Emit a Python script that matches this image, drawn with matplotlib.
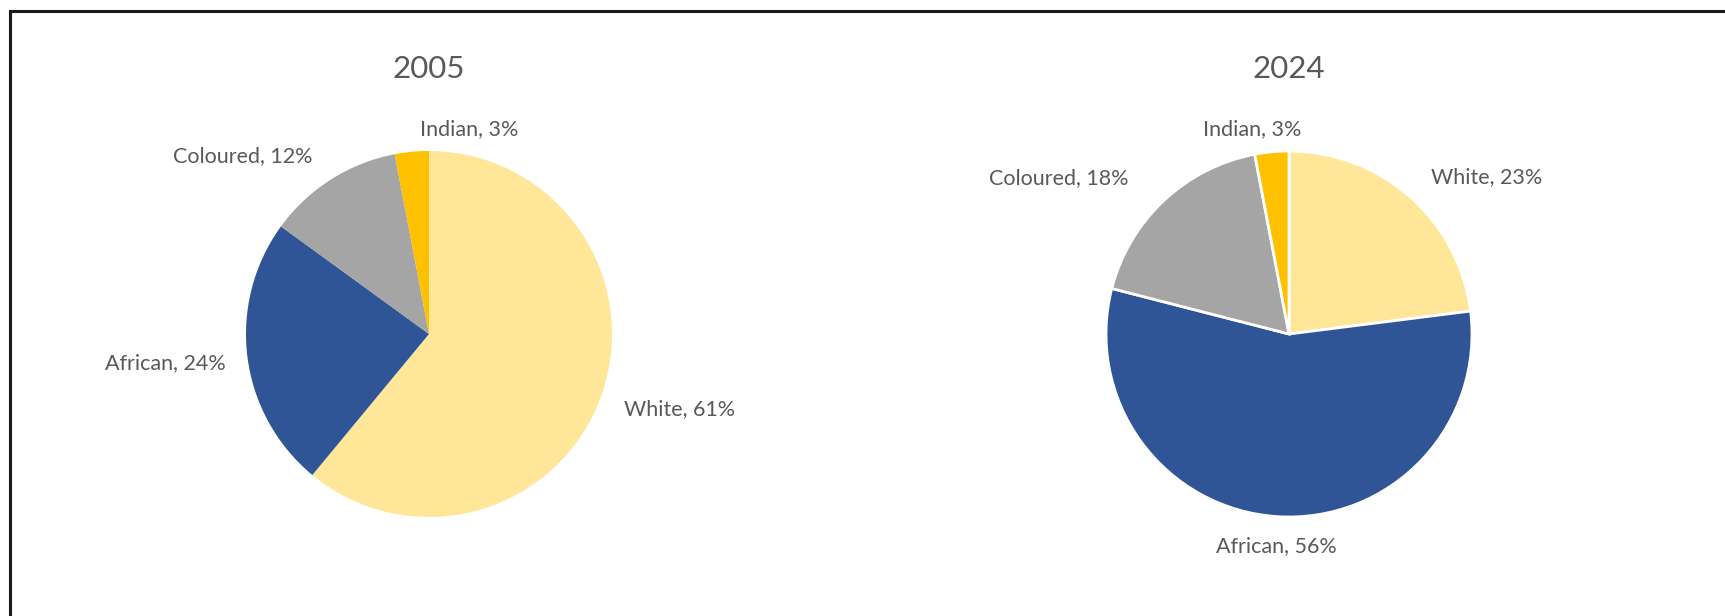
import matplotlib.pyplot as plt
from matplotlib.lines import Line2D

# data
groups = ['White', 'African', 'Coloured', 'Indian']
colors = ['#FFE699', '#2F5597', '#A5A5A5', '#FFC000']
years = ['2005', '2024']
share_2005 = [61, 24, 12, 3]
share_2024 = [23, 56, 18, 3]

# label centres in pie-radius units
label_pos_2005 = [(1.37, -0.41), (-1.44, -0.16), (-1.02, 0.97), (0.22, 1.12)]
label_pos_2024 = [(1.08, 0.86), (-0.07, -1.16), (-1.26, 0.85), (-0.20, 1.12)]

W, H = 1725, 616
R = 183  # pie radius in px
plt.rcParams['font.family'] = ['Lato', 'DejaVu Sans']
txt_color = '#595959'

fig = plt.figure(figsize=(W / 100, H / 100), dpi=100)
fig.patch.set_facecolor('white')


def draw(x0, x1, cx, cy, values, label_pos, title, edge):
    # axes covering pixels x0..x1, full height; 1 data unit = R px
    ax = fig.add_axes([x0 / W, 0, (x1 - x0) / W, 1])
    ax.pie(values, colors=colors, startangle=90, counterclock=False,
           wedgeprops=dict(edgecolor='white' if edge else 'none',
                           linewidth=2 if edge else 0))
    ax.set_xlim((x0 - cx) / R, (x1 - cx) / R)
    ax.set_ylim((cy - H) / R, cy / R)
    ax.set_aspect('auto')
    ax.axis('off')
    for name, v, (lx, ly) in zip(groups, values, label_pos):
        ax.text(lx, ly, f'{name}, {v}%', ha='center', va='center',
                fontsize=15.5, color=txt_color)
    ax.text(0, (cy - 69) / R, title, ha='center', va='center',
            fontsize=22.5, color=txt_color)


draw(0, 862, 429, 334, share_2005, label_pos_2005, years[0], False)
draw(862, W, 1289, 334, share_2024, label_pos_2024, years[1], True)

# frame lines (top and left only)
fig.add_artist(Line2D([10 / W, 1], [1 - 10.5 / H, 1 - 10.5 / H],
                      transform=fig.transFigure, color='#1a1a1a', lw=2.2))
fig.add_artist(Line2D([10 / W, 10 / W], [0, 1 - 10.5 / H],
                      transform=fig.transFigure, color='#1a1a1a', lw=2.2))

fig.savefig('out.png', dpi=100)
